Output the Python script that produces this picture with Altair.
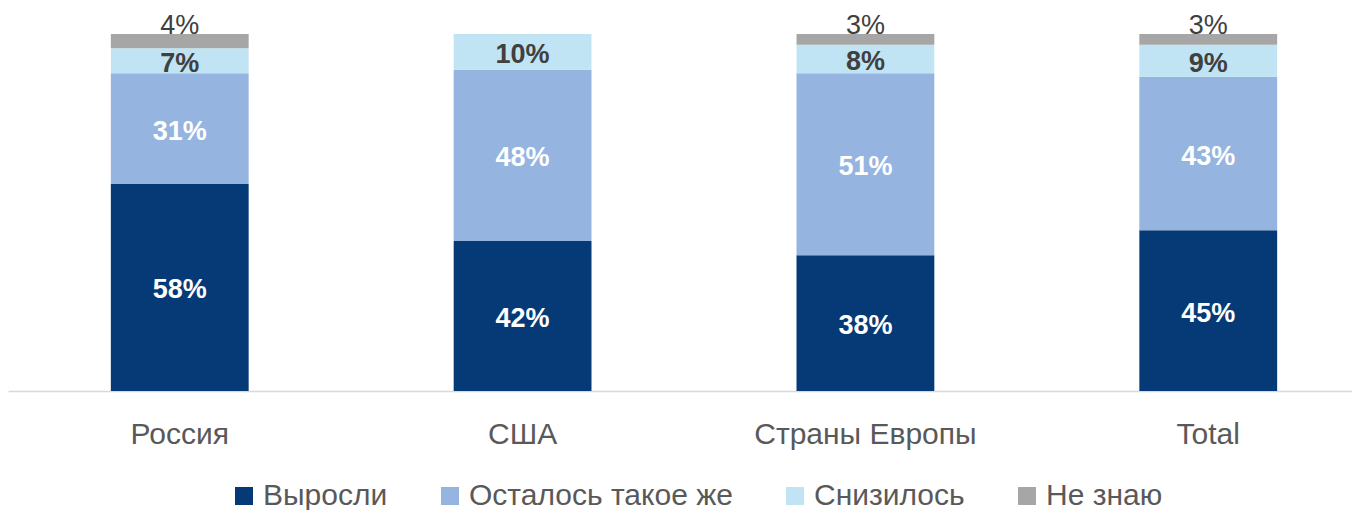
import altair as alt
import pandas as pd

cats = ["Россия", "США", "Страны Европы", "Total"]
series = ["Выросли", "Осталось такое же", "Снизилось", "Не знаю"]
grew = [58, 42, 38, 45]
same = [31, 48, 51, 43]
down = [7, 10, 8, 9]
dontknow = [4, 0, 3, 3]
colors = ["#053A76", "#95B4E0", "#C1E4F5", "#A6A6A6"]

rows = []
for i, c in enumerate(cats):
    base = 0
    for j, (s, v) in enumerate(zip(series, [grew[i], same[i], down[i], dontknow[i]])):
        rows.append(dict(cat=c, series=s, value=v, order=j, start=base,
                         end=base + v, mid=base + v / 2, label=f"{v}%"))
        base += v
df = pd.DataFrame(rows)

FONT = "Liberation Sans"

x = alt.X(
    "cat:N", sort=cats,
    scale=alt.Scale(range=[0, 1372], paddingInner=0.598, paddingOuter=0.3),
    axis=alt.Axis(title=None, labelAngle=0, labelFontSize=30, labelColor="#595959",
                  labelFont=FONT, labelPadding=28, ticks=False, labelLimit=0,
                  domainColor="#D9D9D9", domainWidth=1.5),
)
yscale = alt.Scale(domain=[0, 100], nice=False, zero=True)

bars = alt.Chart(df).mark_bar().encode(
    x=x,
    y=alt.Y("start:Q", scale=yscale, axis=None),
    y2="end:Q",
    color=alt.Color(
        "series:N", sort=series,
        scale=alt.Scale(domain=series, range=colors),
        legend=alt.Legend(
            title=None, orient="none", direction="horizontal", columns=4,
            legendX=221, legendY=447, symbolType="square", symbolSize=324,
            symbolStrokeWidth=0, labelFontSize=30, labelFont=FONT,
            labelColor="#595959", labelOffset=4, columnPadding=47,
            padding=0, labelLimit=0,
        ),
    ),
    order=alt.Order("order:Q"),
)

inner = alt.Chart(df).transform_filter(
    "datum.series != 'Не знаю' && datum.value > 0"
).mark_text(font=FONT, fontWeight="bold", fontSize=27, baseline="middle", dy=3).encode(
    x=x,
    y=alt.Y("mid:Q", scale=yscale, axis=None),
    text="label:N",
    color=alt.condition("datum.series == 'Снизилось'", alt.value("#404040"), alt.value("#FFFFFF")),
)

top = alt.Chart(df).transform_filter(
    "datum.series == 'Не знаю' && datum.value > 0"
).mark_text(font=FONT, fontSize=27, baseline="middle", dy=-8, color="#404040").encode(
    x=x,
    y=alt.Y("end:Q", scale=yscale, axis=None),
    text="label:N",
)

chart = alt.layer(bars, inner, top).properties(
    width=1344, height=357,
    padding={"left": 0, "right": 0, "top": 26, "bottom": 119},
    autosize=alt.AutoSizeParams(type="none"),
).configure_view(stroke=None)

chart.save("out.html", embed_options={"renderer": "svg", "actions": False})
